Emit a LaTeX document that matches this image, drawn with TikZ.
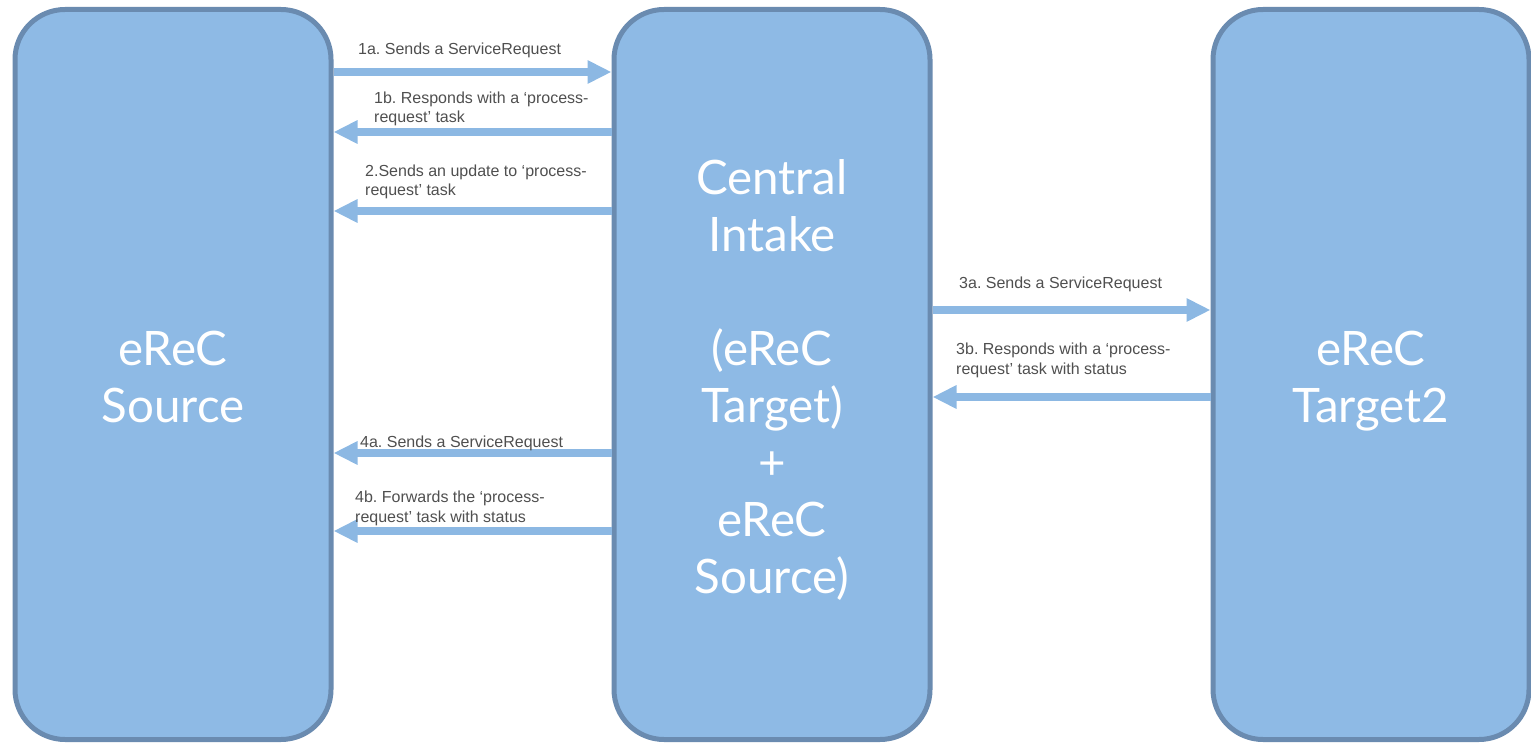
\documentclass[tikz,border=0pt]{standalone}
\usepackage{fontspec}
\setmainfont{Lato}
\newfontfamily\lblfamily{Liberation Sans}
\usetikzlibrary{arrows.meta,positioning}
\frenchspacing
\definecolor{boxfill}{HTML}{8EBAE5}
\definecolor{boxline}{HTML}{6A8BB0}
\definecolor{flowcol}{HTML}{8CB8E3}
\definecolor{lbltext}{HTML}{4F4F4F}
\newcommand{\lnup}{\rule{0pt}{50pt}}
\newcommand{\lndown}{\rule[-12pt]{0pt}{0pt}}
\tikzset{
actor/.style={draw=boxline, fill=boxfill, line width=5pt, rounded corners=50pt,
minimum width=316pt, minimum height=730pt, inner sep=0pt, text=white,
align=center, font=\fontsize{47.5}{57}\selectfont},
flow/.style={draw=flowcol, line width=7.5pt, -{Triangle[length=24pt,width=22pt]}},
lbl/.style={font=\lblfamily\fontsize{16}{19.5}\selectfont, text=lbltext,
align=left, inner sep=0pt, anchor=base west}
}
\begin{document}
\begin{tikzpicture}[x=1pt, y=-1pt]
\useasboundingbox (0,0) rectangle (1531,743);
\node[actor] (src) at (173,374.5) {\lnup eReC\\Source\lndown};
\node[actor, right=278pt of src] (cin) {\lnup Central\\Intake\\[57pt](eReC\\Target)\\+\\eReC\\Source)\lndown};
\node[actor, right=278pt of cin] (tgt) {\lnup eReC\\Target2\lndown};
\draw[flow] (src.east |- 0,72) -- (cin.west |- 0,72);
\draw[flow] (cin.west |- 0,132) -- (src.east |- 0,132);
\draw[flow] (cin.west |- 0,211) -- (src.east |- 0,211);
\draw[flow] (cin.east |- 0,310) -- (tgt.west |- 0,310);
\draw[flow] (tgt.west |- 0,397) -- (cin.east |- 0,397);
\draw[flow] (cin.west |- 0,453) -- (src.east |- 0,453);
\draw[flow] (cin.west |- 0,531) -- (src.east |- 0,531);
\node[lbl] (l1a) at (358,55) {1a. Sends a ServiceRequest};
\node[lbl] (l1b) at (374,123) {1b. Responds with a ‘process-\\request’ task};
\node[lbl] (l2) at (365,196) {2.Sends an update to ‘process-\\request’ task};
\node[lbl] (l3a) at (959,289) {3a. Sends a ServiceRequest};
\node[lbl] (l3b) at (956,374) {3b. Responds with a ‘process-\\request’ task with status};
\node[lbl] (l4a) at (360,447) {4a. Sends a ServiceRequest};
\node[lbl] (l4b) at (355,522) {4b. Forwards the ‘process-\\request’ task with status};
\end{tikzpicture}
\end{document}
